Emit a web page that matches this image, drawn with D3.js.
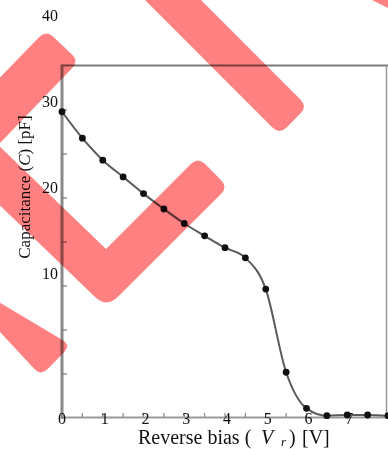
<!DOCTYPE html>
<html>
<head>
<meta charset="utf-8">
<script src="https://cdn.jsdelivr.net/npm/d3@7"></script>
<style>
  html, body { margin: 0; padding: 0; background: #fff; }
  svg { display: block; font-family: "Liberation Serif", "Times New Roman", serif; }
</style>
</head>
<body>
<div id="chart"></div>
<script>
// Reverse bias sweep (V) and measured capacitance (pF)
const biasValues = [0, 0.5, 1, 1.5, 2, 2.5, 3, 3.5, 4, 4.5, 5, 5.5, 6, 6.5, 7, 7.5, 8];
const capValues  = [34.8, 31.8, 29.3, 27.4, 25.5, 23.75, 22.1, 20.7, 19.35, 18.2, 14.65, 5.2, 1.1, 0.26, 0.34, 0.34, 0.26];

// Axis tick labels
const xTickLabels = [0, 1, 2, 3, 4, 5, 6, 7];
const yTickLabels = [10, 20, 30, 40];

const W = 388, H = 449;
const svg = d3.select("#chart").append("svg").attr("width", W).attr("height", H);
svg.append("rect").attr("width", W).attr("height", H).attr("fill", "#fff");

const x = d3.scaleLinear().domain([0, 8]).range([62, 388]);
const y = d3.scaleLinear().domain([0, 40]).range([418, 66]);
// tick labels on the value axis sit on their own (shifted) spacing
const yLab = d3.scaleLinear().domain([0, 40]).range([359.5, 15]);

// frame
svg.append("line").attr("x1", 62).attr("x2", 388).attr("y1", 65.5).attr("y2", 65.5)
  .attr("stroke", "#7a7a7a").attr("stroke-width", 2);
svg.append("line").attr("x1", 386.5).attr("x2", 386.5).attr("y1", 65).attr("y2", 418)
  .attr("stroke", "#9a9a9a").attr("stroke-width", 1.5);
svg.append("line").attr("x1", 62).attr("x2", 388).attr("y1", 417.5).attr("y2", 417.5)
  .attr("stroke", "#999").attr("stroke-width", 2);
svg.append("line").attr("x1", 62).attr("x2", 62).attr("y1", 64.5).attr("y2", 419)
  .attr("stroke", "#8a8a8a").attr("stroke-width", 3);

// value axis ticks (inward)
svg.append("g").selectAll("line").data(d3.range(5, 40, 5)).join("line")
  .attr("x1", 62).attr("x2", 67).attr("y1", d => y(d)).attr("y2", d => y(d))
  .attr("stroke", "#777").attr("stroke-width", 1.2);

// bias axis ticks (inward)
svg.append("g").selectAll("line").data(d3.range(0.5, 8, 0.5)).join("line")
  .attr("x1", d => x(d)).attr("x2", d => x(d)).attr("y1", 417).attr("y2", 413)
  .attr("stroke", "#888").attr("stroke-width", 1.2);

// tick labels
svg.append("g").selectAll("text").data(xTickLabels).join("text")
  .attr("x", d => x(d) + (d === 0 ? 0 : 2)).attr("y", 418)
  .attr("text-anchor", "middle").attr("dominant-baseline", "central")
  .attr("font-size", 16).attr("fill", "#111").text(d => d);
svg.append("g").selectAll("text").data(yTickLabels).join("text")
  .attr("x", 58).attr("y", d => yLab(d))
  .attr("text-anchor", "end").attr("dominant-baseline", "central")
  .attr("font-size", 16).attr("fill", "#111").text(d => d);

// axis titles
const xt = svg.append("text").attr("x", 138).attr("y", 444).attr("font-size", 20).attr("fill", "#111");
xt.append("tspan").text("Reverse bias (");
xt.append("tspan").attr("font-style", "italic").attr("x", 261).text("V");
xt.append("tspan").attr("font-style", "italic").attr("font-size", 13).attr("x", 281).attr("dy", 2).text("r");
xt.append("tspan").attr("x", 289).attr("dy", -2).text(")");
xt.append("tspan").attr("x", 302).text("[V]");

const yt = svg.append("text").attr("transform", "translate(30,187) rotate(-90)")
  .attr("text-anchor", "middle").attr("font-size", 17).attr("fill", "#111");
yt.append("tspan").text("Capacitance (");
yt.append("tspan").attr("font-style", "italic").text("C");
yt.append("tspan").text(") [pF]");

// fitted curve and measured points
const pts = biasValues.map((v, i) => [v, capValues[i]]);
svg.append("path").datum(pts)
  .attr("d", d3.line().x(d => x(d[0])).y(d => y(d[1])).curve(d3.curveMonotoneX))
  .attr("fill", "none").attr("stroke", "#5a5a5a").attr("stroke-width", 2);
svg.append("g").selectAll("circle").data(pts).join("circle")
  .attr("cx", d => x(d[0])).attr("cy", d => y(d[1])).attr("r", 3.4)
  .attr("fill", "#111");

// red marker strokes drawn over the figure (pixel outlines, rounded corners)
function roundedPath(p, r) {
  const n = p.length, seg = [];
  const toward = (a, b, d) => {
    const dx = b[0] - a[0], dy = b[1] - a[1], L = Math.hypot(dx, dy);
    return [a[0] + dx / L * d, a[1] + dy / L * d];
  };
  for (let i = 0; i < n; i++) {
    const P = p[i], prev = p[(i - 1 + n) % n], next = p[(i + 1) % n];
    const a = toward(P, prev, r[i]), b = toward(P, next, r[i]);
    seg.push((i === 0 ? "M" : "L") + a[0] + "," + a[1] + "Q" + P[0] + "," + P[1] + " " + b[0] + "," + b[1]);
  }
  return seg.join("") + "Z";
}
const strokes = [
  { p: [[-100, 181], [46, 30], [79, 61], [-100, 247]], r: [0, 10, 10, 0] },
  { p: [[-60, 89], [106, 249], [198, 157], [228, 187], [106.6, 308], [-60, 148]], r: [0, 0, 10, 10, 16, 0] },
  { p: [[50.5, -150.5], [307.5, 106.5], [279.5, 134.5], [22.5, -122.5]], r: [0, 10, 10, 0] },
  { p: [[330, -21], [460, 44], [460, -100], [330, -100]], r: [0, 0, 0, 0] },
  { p: [[-30, 285], [71, 345], [41, 376], [-30, 300]], r: [0, 10, 10, 0] }
];
svg.append("g").style("mix-blend-mode", "multiply")
  .selectAll("path").data(strokes).join("path")
  .attr("d", d => roundedPath(d.p, d.r)).attr("fill", "#ff8080");
</script>
</body>
</html>
